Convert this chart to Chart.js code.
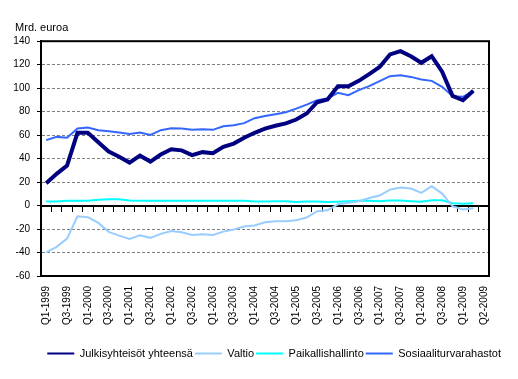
<!DOCTYPE html>
<html><head><meta charset="utf-8">
<script src="https://cdn.jsdelivr.net/npm/chart.js@4"></script>
<style>html,body{margin:0;padding:0;background:#fff}</style>
</head><body>
<canvas id="c" width="518" height="379"></canvas>
<script>
const categories = [
  "Q1-1999","Q2-1999","Q3-1999","Q4-1999","Q1-2000","Q2-2000","Q3-2000","Q4-2000",
  "Q1-2001","Q2-2001","Q3-2001","Q4-2001","Q1-2002","Q2-2002","Q3-2002","Q4-2002",
  "Q1-2003","Q2-2003","Q3-2003","Q4-2003","Q1-2004","Q2-2004","Q3-2004","Q4-2004",
  "Q1-2005","Q2-2005","Q3-2005","Q4-2005","Q1-2006","Q2-2006","Q3-2006","Q4-2006",
  "Q1-2007","Q2-2007","Q3-2007","Q4-2007","Q1-2008","Q2-2008","Q3-2008","Q4-2008",
  "Q1-2009","Q2-2009","Q2-2009"
];
const julkisyhteisot = [19,27,34,62,62,54,46,41.5,36.6,42.5,37.5,43.5,48,47,43,45.5,44.6,50,52.8,57.7,62,65.5,68,70,73.3,78.4,88,90.3,101.7,101.7,106.2,112,118,128.7,131.5,127.2,121.6,127.2,114,93.4,89.7,97.7];
const valtio = [-39.8,-35.2,-28.1,-9.1,-9.9,-14.8,-22.4,-25.6,-28.4,-25.3,-27.5,-24.1,-21.6,-22.7,-25,-24.4,-25,-22.2,-20.4,-17.9,-17,-14.2,-13.3,-13.3,-12.5,-10.2,-4.8,-4,1.1,2.3,3.7,6.5,8.5,13.6,15.3,14.5,10.8,16.5,10.2,-0.6,-3.4,-2.3];
const paikallishallinto = [3.5,3.5,4,4.2,4.2,5,5.3,5.3,4.3,4.2,4.2,4.2,4.2,4.2,4.2,4.2,4.2,4.2,4,4,3.5,3.5,3.7,3.7,3,3.5,3.5,3,3.3,3.7,4,4,3.7,4.3,4.3,3.7,3.2,4.5,4.5,2,1.5,2];
const sosiaaliturvarahastot = [55.7,58.5,57.7,65.6,66.5,64.2,63.3,62.2,61,62.2,60.2,64.2,65.9,65.6,64.5,65,64.5,67.6,68.4,70.2,74.4,76.2,77.8,79.5,82.6,86,89.7,91.2,96,94,98.3,101.7,106,110.2,111,109.6,107.4,106.2,101.1,93.2,92.6,97.7];
const seriesNames = ["Julkisyhteisöt yhteensä","Valtio","Paikallishallinto","Sosiaaliturvarahastot"];
const yMin = -60, yMax = 140, yStep = 20;
const unitLabel = "Mrd. euroa";

const FONT = "'Liberation Sans', Arial, sans-serif";

const framePlugin = {
  id: 'frame',
  afterDatasetsDraw(chart) {
    const a = chart.chartArea, ctx = chart.ctx;
    ctx.save();
    ctx.strokeStyle = '#000';
    ctx.lineWidth = 2;
    ctx.strokeRect(a.left, a.top, a.right - a.left, a.bottom - a.top);
    ctx.restore();
  }
};

function ds(label, data, color, width) {
  return {label, data, borderColor: color, backgroundColor: color, borderWidth: width,
    pointRadius: 0, pointHoverRadius: 0, tension: 0, fill: false, xAxisID: 'x', yAxisID: 'y'};
}

new Chart(document.getElementById('c'), {
  type: 'line',
  data: {
    labels: categories,
    datasets: [
      ds(seriesNames[0], julkisyhteisot, '#000080', 4),
      ds(seriesNames[1], valtio, '#99CCFF', 2),
      ds(seriesNames[2], paikallishallinto, '#00FFFF', 2),
      ds(seriesNames[3], sosiaaliturvarahastot, '#3366FF', 2)
    ]
  },
  options: {
    responsive: false,
    animation: false,
    devicePixelRatio: 1,
    layout: { padding: { left: 12, right: 15, top: 0, bottom: 10 } },
    plugins: {
      tooltip: { enabled: false },
      title: {
        display: true, text: ' ' + unitLabel, align: 'start', color: '#000',
        font: { family: FONT, size: 11, weight: 'normal' },
        padding: { top: 21, bottom: 7 }
      },
      legend: {
        position: 'bottom', align: 'end',
        labels: {
          color: '#000', font: { family: FONT, size: 11 },
          boxWidth: 27, boxHeight: 2, padding: 2,
          generateLabels(chart) {
            return chart.data.datasets.map((d, i) => ({
              text: d.label, fillStyle: d.borderColor, strokeStyle: d.borderColor,
              lineWidth: 0, hidden: false, datasetIndex: i, fontColor: '#000'
            }));
          }
        }
      }
    },
    scales: {
      x: {
        type: 'category',
        position: { y: 0 },
        offset: true,
        grid: { display: true, offset: true, drawOnChartArea: false, drawTicks: true, tickLength: 5, color: '#000', tickColor: '#000', lineWidth: 1 },
        border: { display: true, color: '#000', width: 2 },
        ticks: { display: false }
      },
      x2: {
        type: 'category',
        position: 'bottom',
        offset: true,
        grid: { display: false, drawTicks: false },
        border: { display: false },
        ticks: {
          autoSkip: false, minRotation: 90, maxRotation: 90, padding: 10,
          color: '#000', font: { family: FONT, size: 10 },
          callback(value, index) { return index % 2 === 0 ? categories[index] : ''; }
        },
        afterFit(s) { s.height = 70; }
      },
      y: {
        min: yMin, max: yMax,
        position: 'left',
        ticks: { stepSize: yStep, color: '#000', font: { family: FONT, size: 10 }, padding: 7 },
        grid: {
          color: (c) => (c.tick && (c.tick.value === 0 || c.tick.value === yMin || c.tick.value === yMax)) ? 'rgba(0,0,0,0)' : '#808080',
          tickColor: '#000', tickLength: 4, lineWidth: 1, drawTicks: true
        },
        border: { display: true, color: '#000', width: 2, dash: [3, 2] },
        afterFit(s) { s.width = 29; }
      },
      y2: {
        position: 'right',
        grid: { display: false, drawTicks: false },
        ticks: { display: false },
        border: { display: false },
        afterFit(s) { s.width = 14; }
      }
    }
  },
  plugins: [framePlugin]
});
</script>
</body></html>
